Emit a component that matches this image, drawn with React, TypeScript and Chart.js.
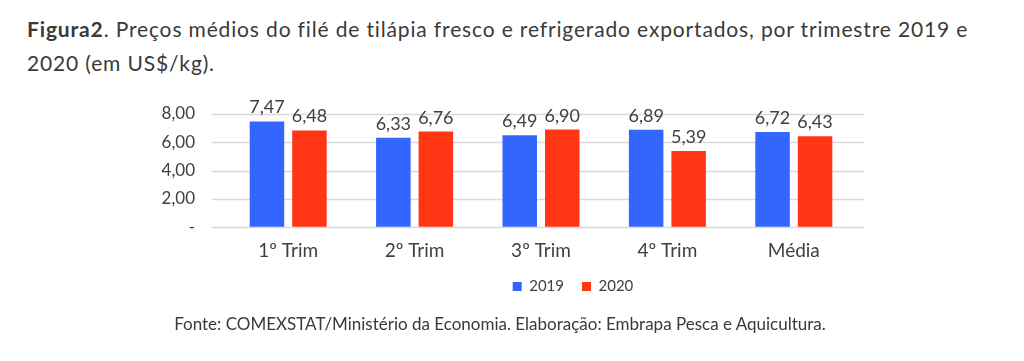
import React, { useEffect, useRef } from "react";
import { Chart, registerables } from "chart.js";

Chart.register(...registerables);

const categories = ["1º Trim", "2º Trim", "3º Trim", "4º Trim", "Média"];
const seriesNames = ["2019", "2020"];
const values2019 = [7.47, 6.33, 6.49, 6.89, 6.72];
const values2020 = [6.84, 6.76, 6.9, 5.39, 6.43];
const labels2019 = ["7,47", "6,33", "6,49", "6,89", "6,72"];
const labels2020 = ["6,48", "6,76", "6,90", "5,39", "6,43"];
const yTickValues = [0, 2, 4, 6, 8];
const yTickLabels = ["-", "2,00", "4,00", "6,00", "8,00"];

const BLUE = "#3366ff";
const RED = "#ff3514";
const TEXT = "#404040";
const FONT = "Lato";

const CANVAS_TOP = 80;
const CANVAS_H = 237;
const LEGEND_CENTER_X = 573;
const LEGEND_CENTER_Y = 286;

const gridPlugin = {
  id: "extGrid",
  beforeDatasetsDraw(chart: any) {
    const { ctx, chartArea } = chart;
    const y = chart.scales.y;
    ctx.save();
    ctx.strokeStyle = "#d9d9d9";
    ctx.lineWidth = 1.3;
    yTickValues.forEach((v) => {
      const py = Math.round(y.getPixelForValue(v)) + 0.5;
      ctx.beginPath();
      ctx.moveTo(chartArea.left - 13, py);
      ctx.lineTo(chartArea.right + 7, py);
      ctx.stroke();
    });
    ctx.restore();
  },
};

const valueLabelPlugin = {
  id: "valueLabels",
  afterDatasetsDraw(chart: any) {
    const { ctx } = chart;
    const texts = [labels2019, labels2020];
    ctx.save();
    ctx.font = `18px ${FONT}`;
    ctx.fillStyle = TEXT;
    ctx.textAlign = "center";
    ctx.textBaseline = "alphabetic";
    chart.data.datasets.forEach((_ds: any, di: number) => {
      const meta = chart.getDatasetMeta(di);
      meta.data.forEach((el: any, i: number) => {
        ctx.fillText(texts[di][i], el.x, el.y - 8);
      });
    });
    ctx.restore();
  },
};

const legendShiftPlugin = {
  id: "legendShift",
  afterLayout(chart: any) {
    const lg = chart.legend;
    if (!lg) return;
    const dx = LEGEND_CENTER_X - (lg.left + lg.right) / 2;
    lg.left += dx;
    lg.right += dx;
    const dy = LEGEND_CENTER_Y - CANVAS_TOP - (lg.bottom - 18);
    lg.top += dy;
    lg.bottom += dy;
  },
};

export default function App() {
  const ref = useRef<HTMLCanvasElement | null>(null);

  useEffect(() => {
    if (!ref.current) return;
    const chart = new Chart(ref.current, {
      type: "bar",
      data: {
        labels: categories,
        datasets: [
          {
            label: seriesNames[0],
            data: values2019,
            backgroundColor: BLUE,
            borderWidth: 0,
            categoryPercentage: 0.6725,
            barPercentage: 0.812,
          },
          {
            label: seriesNames[1],
            data: values2020,
            backgroundColor: RED,
            borderWidth: 0,
            categoryPercentage: 0.6725,
            barPercentage: 0.812,
          },
        ],
      },
      options: {
        animation: false,
        responsive: false,
        maintainAspectRatio: false,
        layout: { padding: { top: 34, right: 167, left: 0, bottom: 0 } },
        font: { family: FONT },
        plugins: {
          legend: {
            position: "bottom",
            labels: {
              boxWidth: 9,
              boxHeight: 9,
              padding: 18,
              color: TEXT,
              font: { family: FONT, size: 15 },
            },
          },
          tooltip: { enabled: false },
        },
        scales: {
          x: {
            grid: { display: false, drawTicks: false, tickLength: 0 },
            border: { display: false },
            ticks: {
              color: TEXT,
              padding: 12,
              font: { family: FONT, size: 19 },
            },
          },
          y: {
            min: 0,
            max: 8,
            afterFit(scale: any) {
              scale.width = 225;
            },
            grid: {
              display: true,
              drawOnChartArea: false,
              drawTicks: true,
              tickLength: 30,
              tickColor: "rgba(0,0,0,0)",
              color: "rgba(0,0,0,0)",
            },
            border: { display: false },
            ticks: {
              stepSize: 2,
              padding: 0,
              color: TEXT,
              font: { family: FONT, size: 17 },
              callback: (v: any) => {
                const idx = yTickValues.indexOf(Number(v));
                return idx >= 0 ? yTickLabels[idx] : "";
              },
            },
          },
        },
      } as any,
      plugins: [gridPlugin, valueLabelPlugin, legendShiftPlugin],
    });
    return () => chart.destroy();
  }, []);

  const textStyle: React.CSSProperties = {
    position: "absolute",
    fontFamily: FONT,
    color: "#3a3a3a",
    whiteSpace: "nowrap",
    margin: 0,
  };

  return (
    <div style={{ position: "absolute", left: 0, top: 0, width: 1024, height: 361, background: "#fff", overflow: "hidden" }}>
      <div style={{ ...textStyle, left: 27, top: 12, fontSize: 21, lineHeight: "34px", letterSpacing: "0.85px" }}>
        <b>Figura2</b>. Preços médios do filé de tilápia fresco e refrigerado exportados, por trimestre 2019 e
        <br />
        2020 (em US$/kg).
      </div>
      <canvas
        ref={ref}
        width={1024}
        height={CANVAS_H}
        style={{ position: "absolute", left: 0, top: CANVAS_TOP, width: 1024, height: CANVAS_H }}
      />
      <div style={{ ...textStyle, left: 0, width: 1000, textAlign: "center", top: 314, fontSize: 17, lineHeight: "20px" }}>
        Fonte: COMEXSTAT/Ministério da Economia. Elaboração: Embrapa Pesca e Aquicultura.
      </div>
    </div>
  );
}
